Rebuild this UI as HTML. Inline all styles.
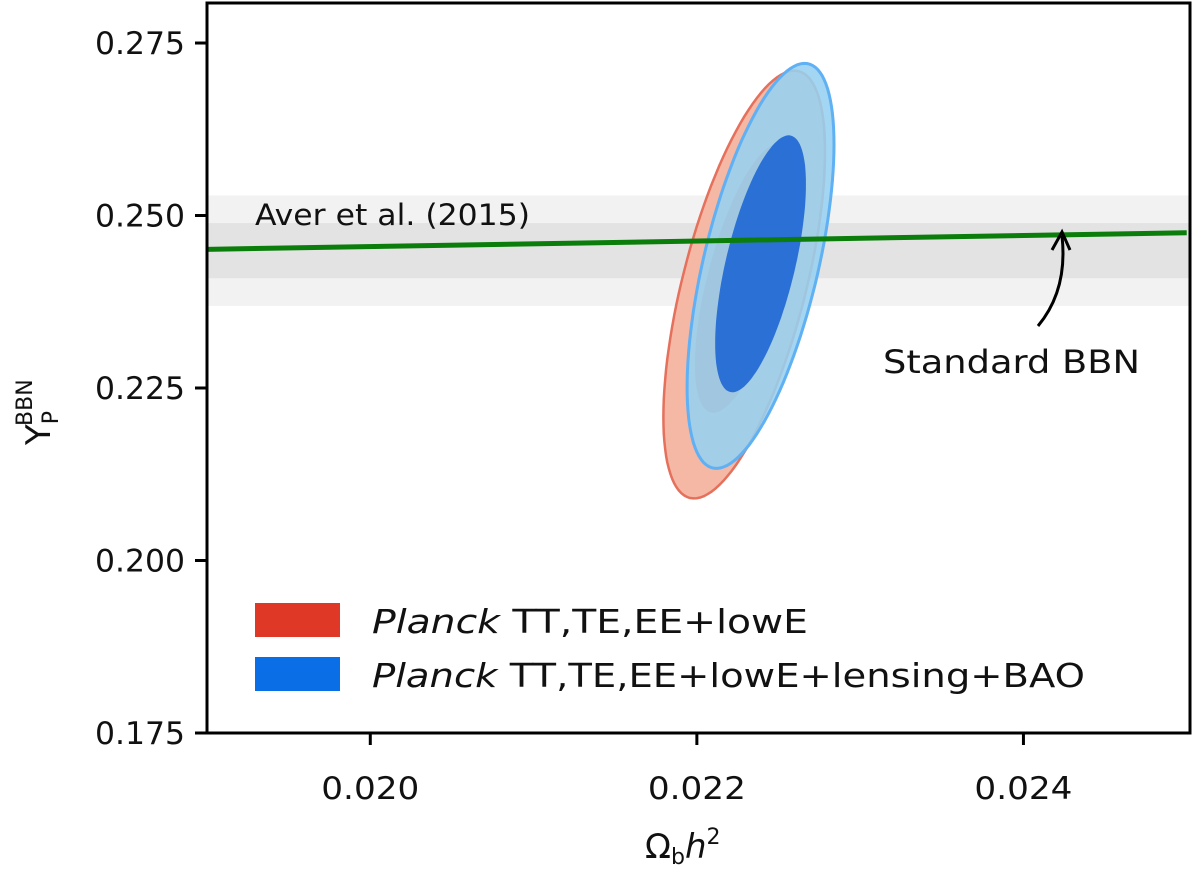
<!DOCTYPE html>
<html><head><meta charset="utf-8"><style>
body{margin:0;background:#fff}
svg text{font-family:"DejaVu Sans","Liberation Sans",sans-serif;fill:#111}
</style></head><body>
<svg width="1200" height="871" viewBox="0 0 1200 871">
<g id="bands"></g>
<g id="contours"></g>
<g id="line"></g>
<g id="axes"></g>
</svg>
<script>
// data
const xTicks=[0.020,0.022,0.024];
const xTickLabels=["0.020","0.022","0.024"];
const yTicks=[0.175,0.200,0.225,0.250,0.275];
const yTickLabels=["0.175","0.200","0.225","0.250","0.275"];
const averMean=[0.2449];
const averSigma=[0.0040];
const bbnX=[0.0190,0.0250];
const bbnY=[0.2451,0.2475];
// contour ellipses: [cx, cy, halfX, halfY, rho]
const redOuter=[0.02229,0.2400,0.000495,0.0310,0.62];
const redInner=[0.02230,0.2409,0.000312,0.0195,0.64];
const blueOuter=[0.02239,0.2427,0.00045,0.02935,0.60];
const blueInner=[0.02239,0.2430,0.000278,0.01862,0.62];

const X0=0.019,X1=0.02502,Y0=0.175,Y1=0.2808;
const L=207,R=1190,T=3,B=733;
const sx=v=>L+(v-X0)/(X1-X0)*(R-L);
const sy=v=>B-(v-Y0)/(Y1-Y0)*(B-T);
const NS="http://www.w3.org/2000/svg";
function mk(par,tag,attrs){const e=document.createElementNS(NS,tag);for(const k in attrs)e.setAttribute(k,attrs[k]);par.appendChild(e);return e;}

const bands=document.getElementById('bands');
let b1=mk(bands,'rect',{x:L,y:sy(averMean[0]+2*averSigma[0]),width:R-L,height:sy(averMean[0]-2*averSigma[0])-sy(averMean[0]+2*averSigma[0]),fill:'#f2f2f2'});


let b2=mk(bands,'rect',{x:L,y:sy(averMean[0]+averSigma[0]),width:R-L,height:sy(averMean[0]-averSigma[0])-sy(averMean[0]+averSigma[0]),fill:'#e3e3e3'});



function ell(p){const pts=[];for(let i=0;i<120;i++){const t=i/120*2*Math.PI;const x=p[0]+p[2]*Math.cos(t);const y=p[1]+p[3]*(p[4]*Math.cos(t)+Math.sqrt(1-p[4]*p[4])*Math.sin(t));pts.push(sx(x).toFixed(1)+','+sy(y).toFixed(1));}return pts.join(' ');}
const cg=document.getElementById('contours');
let c;
c=mk(cg,'polygon',{points:ell(redOuter),fill:'#f5b8a5',stroke:'#e5705c','stroke-width':2.5});


c=mk(cg,'polygon',{points:ell(redInner),fill:'#e8806a'});


c=mk(cg,'polygon',{points:ell(blueOuter),fill:'rgba(150,208,240,0.88)',stroke:'#60b0f4','stroke-width':3});


c=mk(cg,'polygon',{points:ell(blueInner),fill:'rgba(30,102,212,0.9)'});



const lg=document.getElementById('line');
let ln=mk(lg,'line',{x1:sx(bbnX[0]),y1:sy(bbnY[0]),x2:sx(bbnX[1]),y2:sy(bbnY[1]),stroke:'#0a7d0a','stroke-width':5});



const ax=document.getElementById('axes');
let fr=mk(ax,'rect',{x:L,y:T,width:R-L,height:B-T,fill:'none',stroke:'#000','stroke-width':3});


xTicks.forEach((v,i)=>{const x=sx(v);
 mk(ax,'line',{x1:x,y1:B,x2:x,y2:B+12,stroke:'#000','stroke-width':3});
 const t=mk(ax,'text',{x:x,y:B+66,'text-anchor':'middle','font-size':31,textLength:98,lengthAdjust:'spacingAndGlyphs'});t.textContent=xTickLabels[i];
 
 });
yTicks.forEach((v,i)=>{const y=sy(v);
 mk(ax,'line',{x1:L-12,y1:y,x2:L,y2:y,stroke:'#000','stroke-width':3});
 const t=mk(ax,'text',{x:L-22,y:y+11,'text-anchor':'end','font-size':31,textLength:90,lengthAdjust:'spacingAndGlyphs'});t.textContent=yTickLabels[i];
 
 });
</script>
<svg style="position:absolute;left:0;top:0" width="1200" height="871">
<text x="255" y="225" font-size="29" textLength="275" lengthAdjust="spacingAndGlyphs">Aver et al. (2015)</text>
<text x="883" y="373" font-size="32" textLength="257" lengthAdjust="spacingAndGlyphs">Standard BBN</text>
<path d="M1038 326 Q1068 290 1062 236" fill="none" stroke="#000" stroke-width="3"/>
<path d="M1052 250 L1062 232 L1070 250" fill="none" stroke="#000" stroke-width="3"/>
<rect x="255" y="603" width="85" height="34" fill="#e03826"/>
<text x="372" y="633" font-size="33" textLength="436" lengthAdjust="spacingAndGlyphs"><tspan font-style="italic">Planck</tspan> TT,TE,EE+lowE</text>
<rect x="255" y="657" width="85" height="34" fill="#0a6fe6"/>
<text x="372" y="687" font-size="33" textLength="713" lengthAdjust="spacingAndGlyphs"><tspan font-style="italic">Planck</tspan> TT,TE,EE+lowE+lensing+BAO</text>
<text x="645" y="858" font-size="34">Ω<tspan font-size="22" dy="6">b</tspan><tspan dy="-6" font-style="italic">h</tspan><tspan font-size="22" dy="-14">2</tspan></text>
<g transform="translate(50,445) rotate(-90)">
<text x="0" y="0" font-size="34">Y<tspan font-size="22" dy="8">P</tspan><tspan font-size="22" dx="-15" dy="-26">BBN</tspan></text>
</g>
</svg>
</body></html>
